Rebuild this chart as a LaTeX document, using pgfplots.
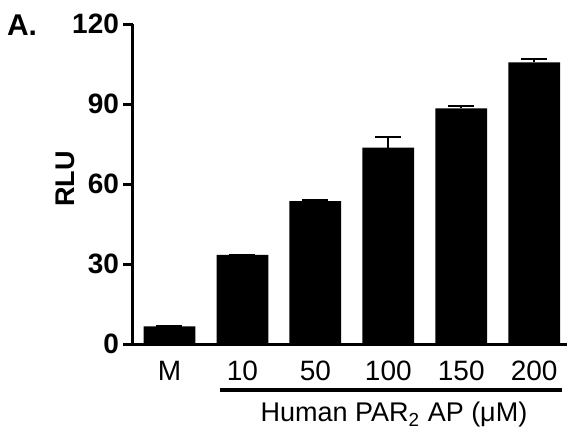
\documentclass[border=0pt]{standalone}
\usepackage{fontspec}
\setmainfont{Liberation Sans}
\usepackage{pgfplots}
\pgfplotsset{compat=1.18}
\begin{document}
\begin{tikzpicture}
\useasboundingbox (-66.5pt,-42.5pt) rectangle (220pt,172pt);
\begin{axis}[
    at={(0,0)}, anchor=south west,
    scale only axis, width=217pt, height=160pt,
    xmin=-0.5, xmax=5.45, ymin=0, ymax=120,
    axis x line*=bottom, axis y line*=left,
    axis line style={line width=1.5pt, -},
    ytick={0,30,60,90,120},
    xtick={0,...,5}, xticklabels={M,10,50,100,150,200},
    x tick style={draw=none},
    y tick style={line width=1.5pt, black},
    major tick length=5pt,
    tick align=outside,
    /pgf/number format/assume math mode=true,
    yticklabel style={font=\bfseries\fontsize{14}{16}\selectfont, xshift=1.5pt},
    xticklabel style={font=\fontsize{14}{16}\selectfont, yshift=0pt},
    every axis y label/.style={at={(axis description cs:0,0.515)}, xshift=-34pt,
        rotate=90, anchor=center, font=\bfseries\fontsize{13.5}{15}\selectfont},
    ylabel={RLU},
    clip=false,
]
\addplot[ybar, bar width=0.71, fill=black, draw=none,
    error bars/.cd, y dir=plus, y explicit,
    error bar style={line width=1pt, black},
    error mark options={rotate=90, mark size=6.5pt, line width=1pt, black}]
coordinates {
    (0,6.6) +- (0,0)
    (1,33.4) +- (0,0)
    (2,53.6) +- (0,0.3)
    (3,73.6) +- (0,4.0)
    (4,88.4) +- (0,0.7)
    (5,105.6) +- (0,1.2)
};
\end{axis}
\node[font=\bfseries\fontsize{15}{17}\selectfont] at (-55.5pt,159.5pt) {A.};
\draw[line width=2pt] (43.5pt,-23pt) -- (214.5pt,-23pt);
\node[font=\fontsize{13.5}{15}\selectfont] at (130.5pt,-35.5pt) {Human PAR\textsubscript{2} AP (μM)};
\end{tikzpicture}
\end{document}
